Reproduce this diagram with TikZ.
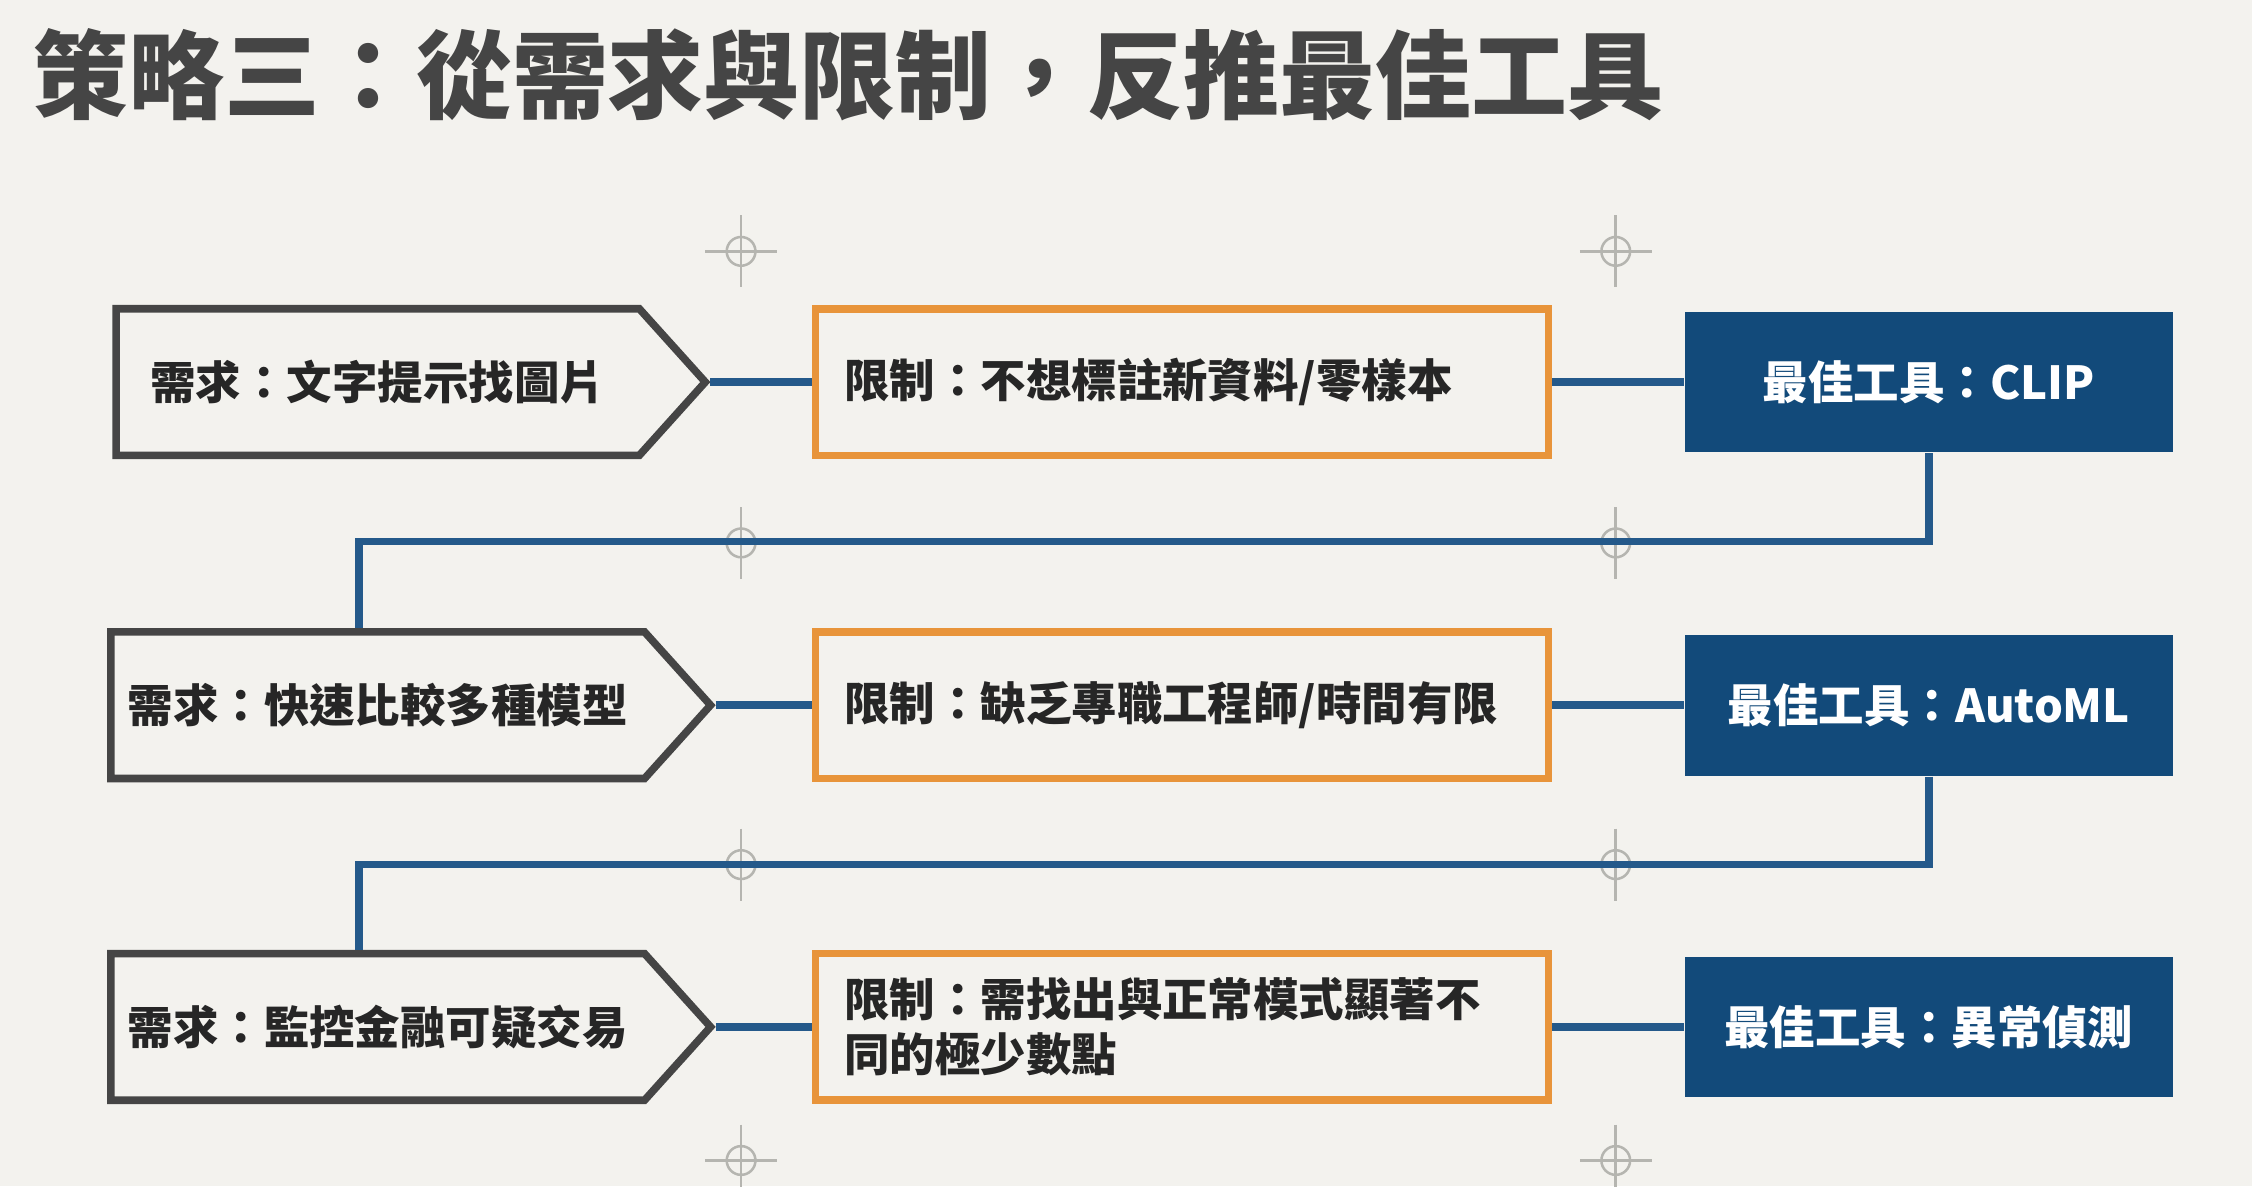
\documentclass[tikz,border=0pt]{standalone}
\usepackage{fontspec}
\setmainfont{Noto Sans CJK TC}
\usetikzlibrary{positioning,shapes.symbols}
\definecolor{bgpaper}{HTML}{F3F2EE}
\definecolor{needgray}{HTML}{454545}
\definecolor{limorange}{HTML}{E8943A}
\definecolor{toolblue}{HTML}{124A7A}
\definecolor{linkblue}{HTML}{24598A}
\definecolor{markgray}{HTML}{B5B5B0}
\tikzset{
    x=0.01cm,
    y=-0.01cm,
    need/.style = {
        draw=needgray,
        fill=bgpaper,
        shape=signal,
        signal to=east,
        signal pointer angle=96,
        minimum height=1.02cm,
        minimum width=4.1cm,
        line width=1.5pt,
        font=\bfseries\fontsize{9pt}{11pt}\selectfont,
        text=black!85
    },
    limit/.style = {
        draw=limorange,
        fill=bgpaper,
        shape=rectangle,
        minimum height=1.02cm,
        minimum width=5.1cm,
        text width=4.7cm,
        align=left,
        line width=1.5pt,
        font=\bfseries\fontsize{9pt}{11pt}\selectfont,
        text=black!85
    },
    tool/.style = {
        fill=toolblue,
        shape=rectangle,
        minimum height=0.98cm,
        minimum width=3.4cm,
        font=\bfseries\fontsize{9pt}{11pt}\selectfont,
        text=white
    },
    link/.style = {
        draw=linkblue,
        line width=1.5pt
    },
    cross/.style = {
        draw=markgray,
        line width=0.5pt
    }
}
\begin{document}
\begin{tikzpicture}
    \fill[bgpaper] (0,0) rectangle (1568,826);
    \useasboundingbox (0,0) rectangle (1568,826);

    % crosshair marks
    \foreach \cx/\cy in {516/175,1125/175,516/378,1125/378,516/602,1125/602,516/808,1125/808}{
        \draw[cross] (\cx-25,\cy) -- (\cx+25,\cy) (\cx,\cy-25) -- (\cx,\cy+25);
        \draw[cross] (\cx,\cy) circle (0.1cm);
    }

    \node[anchor=west, font=\bfseries\fontsize{19pt}{22pt}\selectfont, text=needgray]
        (title) at (10,52) {策略三：從需求與限制，反推最佳工具};

    \node[need] (needa) at (263,266) {需求：文字提示找圖片\hspace{1.6em}};
    \node[need] (needb) at (263,491) {需求：快速比較多種模型\hspace{1.2em}};
    \node[need] (needc) at (263,715) {需求：監控金融可疑交易\hspace{1.2em}};

    \node[limit] (lima) at (823,266) {限制：不想標註新資料/零樣本};
    \node[limit] (limb) at (823,491) {限制：缺乏專職工程師/時間有限};
    \node[limit] (limc) at (823,715) {限制：需找出與正常模式顯著不\\同的極少數點};

    \node[tool] (toola) at (1343,266) {最佳工具：CLIP};
    \node[tool] (toolb) at (1343,491) {最佳工具：AutoML};
    \node[tool] (toolc) at (1343,715) {最佳工具：異常偵測};

    \foreach \r in {a,b,c}{
        \path[link] (need\r.east) -- (lim\r.west);
        \path[link] (lim\r.east) -- (tool\r.west);
    }

    \coordinate (bendab) at (250,377);
    \coordinate (bendbc) at (250,602);
    \path[link] (toola.south) |- (bendab) -- (needb.north -| bendab);
    \path[link] (toolb.south) |- (bendbc) -- (needc.north -| bendbc);
\end{tikzpicture}
\end{document}
